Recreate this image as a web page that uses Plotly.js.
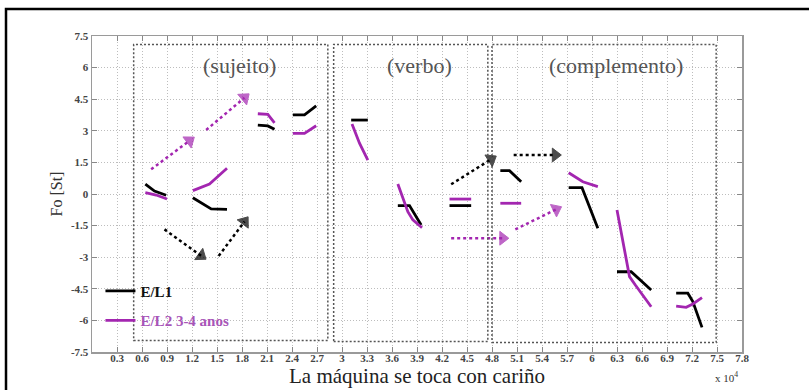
<!DOCTYPE html>
<html>
<head>
<meta charset="utf-8">
<script src="https://cdn.plot.ly/plotly-3.0.1.min.js"></script>
<style>
  html, body { margin: 0; padding: 0; background: #fff; }
  #chart { width: 809px; height: 390px; }
</style>
</head>
<body>
<div id="chart"></div>
<script>
// ---- tick labels ----
const xTickVals = [0.3, 0.6, 0.9, 1.2, 1.5, 1.8, 2.1, 2.4, 2.7, 3, 3.3, 3.6, 3.9, 4.2, 4.5, 4.8, 5.1, 5.4, 5.7, 6, 6.3, 6.6, 6.9, 7.2, 7.5, 7.8];
const xTickText = ["0.3","0.6","0.9","1.2","1.5","1.8","2.1","2.4","2.7","3","3.3","3.6","3.9","4.2","4.5","4.8","5.1","5.4","5.7","6","6.3","6.6","6.9","7.2","7.5","7.8"];
const yTickVals = [-7.5, -6, -4.5, -3, -1.5, 0, 1.5, 3, 4.5, 6, 7.5];
const yTickText = ["-7.5","-6","-4.5","-3","-1.5","0","1.5","3","4.5","6","7.5"];

// ---- series (x in units of 10^4; null separates syllable segments) ----
const el1Name = "E/L1";
const el1X = [0.64,0.75,0.89,null, 1.21,1.43,1.62,null, 1.99,2.11,2.19,null, 2.41,2.55,2.69,null, 3.11,3.31,null,
              3.67,3.81,3.95,null, 4.29,4.55,null, 4.90,5.01,5.15,null, 5.72,5.88,6.07,null, 6.30,6.47,6.71,null, 7.01,7.15,7.21,7.32];
const el1Y = [0.47,0.14,-0.06,null, -0.18,-0.71,-0.73,null, 3.27,3.23,3.07,null, 3.76,3.76,4.18,null, 3.51,3.51,null,
              -0.55,-0.55,-1.47,null, -0.55,-0.55,null, 1.11,1.11,0.58,null, 0.30,0.30,-1.63,null, -3.69,-3.69,-4.56,null, -4.71,-4.71,-5.11,-6.33];

const el2Name = "E/L2 3-4 anos";
const el2X = [0.64,0.77,0.90,null, 1.21,1.41,1.62,null, 1.99,2.11,2.19,null, 2.41,2.55,2.69,null, 3.12,3.21,3.31,null,
              3.67,3.79,3.85,3.96,null, 4.29,4.55,null, 4.90,5.15,null, 5.72,5.89,6.07,null, 6.30,6.45,6.52,6.71,null, 7.01,7.13,7.21,7.32];
const el2Y = [0.06,-0.05,-0.24,null, 0.16,0.47,1.22,null, 3.81,3.78,3.38,null, 2.88,2.88,3.24,null, 3.32,2.41,1.61,null,
              0.47,-0.84,-1.23,-1.60,null, -0.24,-0.24,null, -0.44,-0.44,null, 1.01,0.58,0.35,null, -0.76,-3.92,-4.32,-5.35,null, -5.32,-5.38,-5.22,-4.92];

// ---- dotted arrows: [x0, y0, x1, y1] ----
const blackArrows = [[0.87,-1.68,1.31,-2.93],[1.52,-2.94,1.83,-1.31],[4.31,0.46,4.79,1.65],[5.06,1.85,5.56,1.85]];
const purpleArrows = [[0.71,1.17,1.17,2.53],[1.37,3.04,1.83,4.57],[4.31,-2.10,4.93,-2.10],[5.08,-1.68,5.57,-0.73]];

// ---- sentence regions: [x0, x1, y0, y1, label, labelX, labelY] ----
const regions = [[0.50,2.83,-6.95,7.1,"(sujeito)",1.77,6.12],[2.90,4.75,-7.0,7.1,"(verbo)",3.93,6.12],[4.80,7.49,-7.05,7.1,"(complemento)",6.29,6.12]];

const BLACK = "#000000";
const PURPLE = "#a326b0";
const SERIF = "Liberation Serif, Times New Roman, serif";

const traces = [
  {x: el1X, y: el1Y, name: el1Name, mode: "lines", connectgaps: false, legendgroup: "a",
   line: {color: BLACK, width: 2.8}},
  {x: el2X, y: el2Y, name: '<span style="color:#a855b8">' + el2Name + '</span>', mode: "lines", connectgaps: false, legendgroup: "b",
   line: {color: PURPLE, width: 2.8}}
];
function addArrows(list, color) {
  list.forEach(a => {
    traces.push({x: [a[0], a[2]], y: [a[1], a[3]], mode: "lines+markers", showlegend: false, hoverinfo: "skip",
      line: {color: color, width: 2.5, dash: "dot"},
      marker: {symbol: "triangle-up", size: [0, 12], color: color, angleref: "previous", line: {width: 1, color: color}}});
  });
}
addArrows(blackArrows, BLACK);
addArrows(purpleArrows, PURPLE);

const shapes = regions.map(r => ({type: "rect", xref: "x", yref: "y", x0: r[0], x1: r[1], y0: r[2], y1: r[3],
  line: {color: "#555", width: 1.5, dash: "2px,2px"}, fillcolor: "rgba(0,0,0,0)"}));
// outer frame of the figure
shapes.push({type: "rect", xref: "paper", yref: "paper", x0: -0.1323, x1: 1.12, y0: -0.2, y1: 1.0854,
  line: {color: "#000", width: 2.5}, fillcolor: "rgba(0,0,0,0)", layer: "above"});

const annotations = regions.map(r => ({x: r[5], y: r[6], xref: "x", yref: "y", text: r[4], showarrow: false,
  font: {family: SERIF, size: 22, color: "#555"}}));
annotations.push({x: 0.997, y: -0.079, xref: "paper", yref: "paper", xanchor: "right", yanchor: "middle",
  text: "x 10<sup>4</sup>", showarrow: false, font: {family: SERIF, size: 11, color: "#333"}});

const axisCommon = {
  showline: true, mirror: "allticks", linecolor: "#9a9a9a", linewidth: 1.5,
  ticks: "inside", ticklen: 5, tickcolor: "#888", tickwidth: 1,
  showgrid: true, gridcolor: "#bdbdbd", gridwidth: 1, griddash: "1px,2px", zeroline: false,
  tickfont: {family: SERIF, size: 11, color: "#444", weight: "bold"}, automargin: false
};

const layout = {
  width: 809, height: 390,
  margin: {l: 92, r: 67, t: 36, b: 38},
  paper_bgcolor: "#fff", plot_bgcolor: "#fff",
  showlegend: true,
  legend: {x: 0.013, y: 0.245, xanchor: "left", yanchor: "top", bgcolor: "rgba(0,0,0,0)",
    font: {family: SERIF, size: 15, color: "#111", weight: "bold"}, traceorder: "grouped", tracegroupgap: 7},
  xaxis: Object.assign({}, axisCommon, {range: [0, 7.8], tickmode: "array", tickvals: xTickVals, ticktext: xTickText,
    ticklabelstandoff: -5,
    title: {text: "La máquina se toca con cariño", font: {family: SERIF, size: 21, color: "#222"}, standoff: 0}}),
  yaxis: Object.assign({}, axisCommon, {range: [-7.5, 7.5], tickmode: "array", tickvals: yTickVals, ticktext: yTickText,
    title: {text: "Fo [St]", font: {family: SERIF, size: 16, color: "#333"}, standoff: 4}}),
  shapes: shapes,
  annotations: annotations
};

Plotly.newPlot("chart", traces, layout, {displayModeBar: false, staticPlot: true});
</script>
</body>
</html>
